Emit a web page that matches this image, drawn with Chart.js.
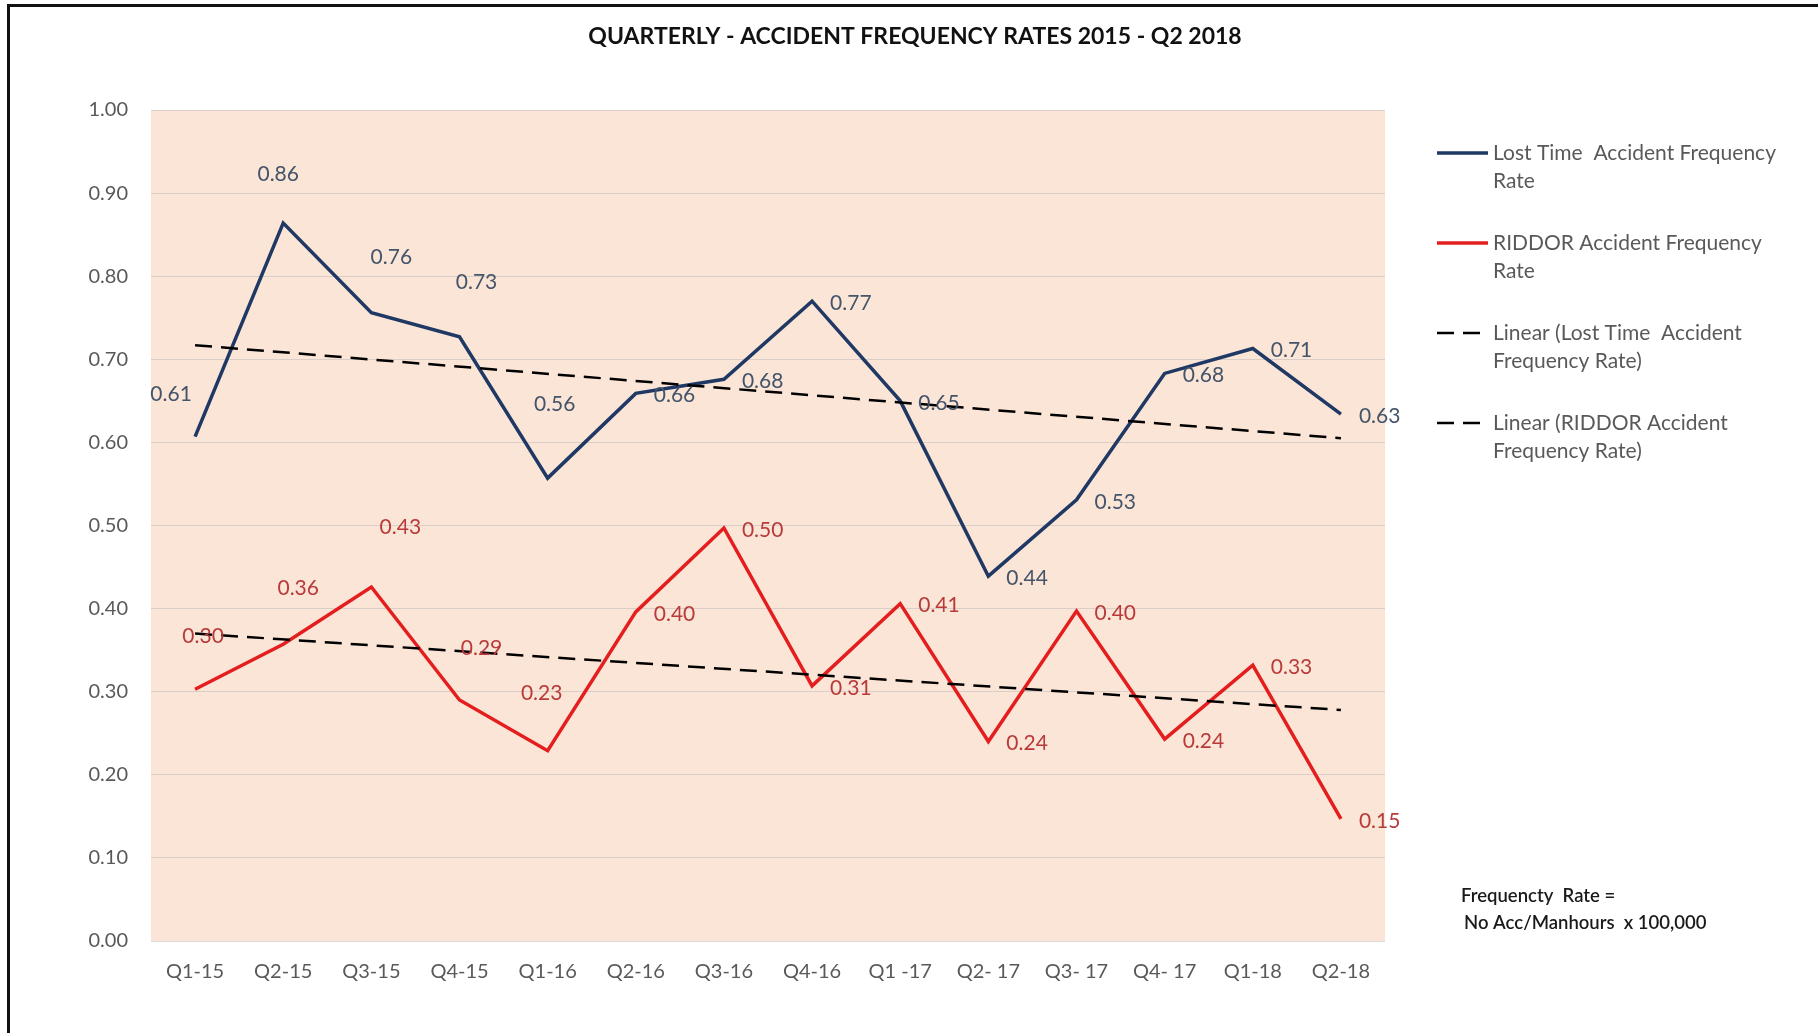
<!DOCTYPE html>
<html>
<head>
<meta charset="utf-8">
<script src="https://cdn.jsdelivr.net/npm/chart.js"></script>
<style>
  body { margin: 0; background: #fff; }
  #wrap { width: 1818px; height: 1033px; }
</style>
</head>
<body>
<div id="wrap"><canvas id="rates" width="1818" height="1033"></canvas></div>
<script>
// quarters as written on the original sheet
let quarters = ["Q1-15", "Q2-15", "Q3-15", "Q4-15", "Q1-16", "Q2-16", "Q3-16", "Q4-16", "Q1 -17", "Q2- 17", "Q3- 17", "Q4- 17", "Q1-18", "Q2-18"];
let lostTime = [0.607, 0.864, 0.756, 0.727, 0.557, 0.659, 0.676, 0.770, 0.650, 0.439, 0.531, 0.683, 0.713, 0.634];
let riddor = [0.303, 0.357, 0.426, 0.290, 0.229, 0.396, 0.497, 0.307, 0.406, 0.240, 0.397, 0.243, 0.332, 0.147];
// excel trendlines, only the two ends
let lostTrend = [0.717, null, null, null, null, null, null, null, null, null, null, null, null, 0.605];
let riddorTrend = [0.370, null, null, null, null, null, null, null, null, null, null, null, null, 0.278];
let yTicks = [0, 0.1, 0.2, 0.3, 0.4, 0.5, 0.6, 0.7, 0.8, 0.9, 1.0];

let font = "Lato, 'Open Sans', sans-serif";
let navy = "#203864";
let red = "#E41E1E";

let legendItems = [
    { lines: ["Lost Time  Accident Frequency", "Rate"], color: navy, dash: [] },
    { lines: ["RIDDOR Accident Frequency", "Rate"], color: red, dash: [] },
    { lines: ["Linear (Lost Time  Accident", "Frequency Rate)"], color: "#000", dash: [17, 9] },
    { lines: ["Linear (RIDDOR Accident", "Frequency Rate)"], color: "#000", dash: [17, 9] }
];

const plotBg = {
    id: 'plotBg',
    beforeDraw(chart) {
        let { ctx, chartArea: a } = chart;
        ctx.save();
        ctx.fillStyle = '#FBE5D6';
        ctx.fillRect(a.left, a.top, a.right - a.left, a.bottom - a.top);
        ctx.restore();
    }
};

// value labels: first five quarters were nudged by hand above the line, the rest sit to the right
const aboveNudge = [
    [[-24, -42], [-5, -49], [20, -56], [17, -55], [7, -74]],
    [[8, -53], [15, -56], [29, -60], [22, -52], [-6, -57]]
];
const valueLabels = {
    id: 'valueLabels',
    afterDatasetsDraw(chart) {
        let ctx = chart.ctx;
        let colors = ["#44546A", "#B83A3A"];
        ctx.save();
        ctx.font = "21px " + font;
        ctx.textBaseline = 'middle';
        [0, 1].forEach(i => {
            let ds = chart.data.datasets[i];
            chart.getDatasetMeta(i).data.forEach((pt, j) => {
                let txt = ds.data[j].toFixed(2);
                ctx.fillStyle = colors[i];
                if (j < 5) {
                    let [dx, dy] = aboveNudge[i][j];
                    ctx.textAlign = 'center';
                    ctx.fillText(txt, pt.x + dx, pt.y + dy);
                } else {
                    ctx.textAlign = 'left';
                    ctx.fillText(txt, pt.x + 18, pt.y + 2);
                }
            });
        });
        ctx.restore();
    }
};

const decorations = {
    id: 'decorations',
    afterDraw(chart) {
        let ctx = chart.ctx;
        ctx.save();
        // frame
        ctx.fillStyle = '#111';
        ctx.fillRect(7, 4, 1811, 3);
        ctx.fillRect(7, 4, 3, 1029);

        // title
        ctx.fillStyle = '#111';
        ctx.font = "bold 23px " + font;
        ctx.textAlign = 'center';
        ctx.textBaseline = 'middle';
        ctx.fillText("QUARTERLY - ACCIDENT FREQUENCY RATES 2015 - Q2 2018", 915, 37);

        // legend
        ctx.font = "21px " + font;
        ctx.textAlign = 'left';
        legendItems.forEach((it, k) => {
            let y = 153 + k * 90;
            ctx.strokeStyle = it.color;
            ctx.lineWidth = it.dash.length ? 2.5 : 3.5;
            ctx.setLineDash(it.dash);
            ctx.beginPath();
            ctx.moveTo(1437, y);
            ctx.lineTo(it.dash.length ? 1480 : 1488, y);
            ctx.stroke();
            ctx.setLineDash([]);
            ctx.fillStyle = '#595959';
            it.lines.forEach((t, n) => ctx.fillText(t, 1493, y + n * 28));
        });

        // footnote
        ctx.fillStyle = '#1a1a1a';
        ctx.font = "600 18.5px " + font;
        ctx.fillText("Frequencty  Rate =", 1461, 896);
        ctx.fillText("No Acc/Manhours  x 100,000", 1464, 923);
        ctx.restore();
    }
};

new Chart(document.getElementById("rates"), {
    type: 'line',
    data: {
        labels: quarters,
        datasets: [
            { label: "Lost Time  Accident Frequency Rate", data: lostTime, borderColor: navy, borderWidth: 3.5, order: 2 },
            { label: "RIDDOR Accident Frequency Rate", data: riddor, borderColor: red, borderWidth: 3.5, order: 2 },
            { label: "Linear (Lost Time  Accident Frequency Rate)", data: lostTrend, borderColor: '#000', borderWidth: 2.5, borderDash: [17, 9], spanGaps: true, order: 1 },
            { label: "Linear (RIDDOR Accident Frequency Rate)", data: riddorTrend, borderColor: '#000', borderWidth: 2.5, borderDash: [17, 9], spanGaps: true, order: 1 }
        ]
    },
    options: {
        responsive: false,
        animation: false,
        elements: { point: { radius: 0, hoverRadius: 0 }, line: { tension: 0, fill: false } },
        layout: { padding: { top: 110, right: 433, bottom: 0, left: 0 } },
        plugins: {
            legend: { display: false },
            title: { display: false },
            tooltip: { enabled: false }
        },
        scales: {
            x: {
                offset: true,
                grid: { display: false, drawTicks: false },
                border: { display: false },
                ticks: { color: '#595959', font: { family: font, size: 20 }, padding: 19, maxRotation: 0, autoSkip: false },
                afterFit: s => { s.height = 92; }
            },
            y: {
                min: 0,
                max: 1,
                afterBuildTicks: s => { s.ticks = yTicks.map(v => ({ value: v })); },
                grid: { color: 'rgba(190,190,190,0.55)', lineWidth: 1, drawTicks: false },
                border: { display: false },
                ticks: { color: '#595959', font: { family: font, size: 20 }, padding: 23, callback: v => v.toFixed(2) },
                afterFit: s => { s.width = 151; }
            }
        }
    },
    plugins: [plotBg, valueLabels, decorations]
});
</script>
</body>
</html>
